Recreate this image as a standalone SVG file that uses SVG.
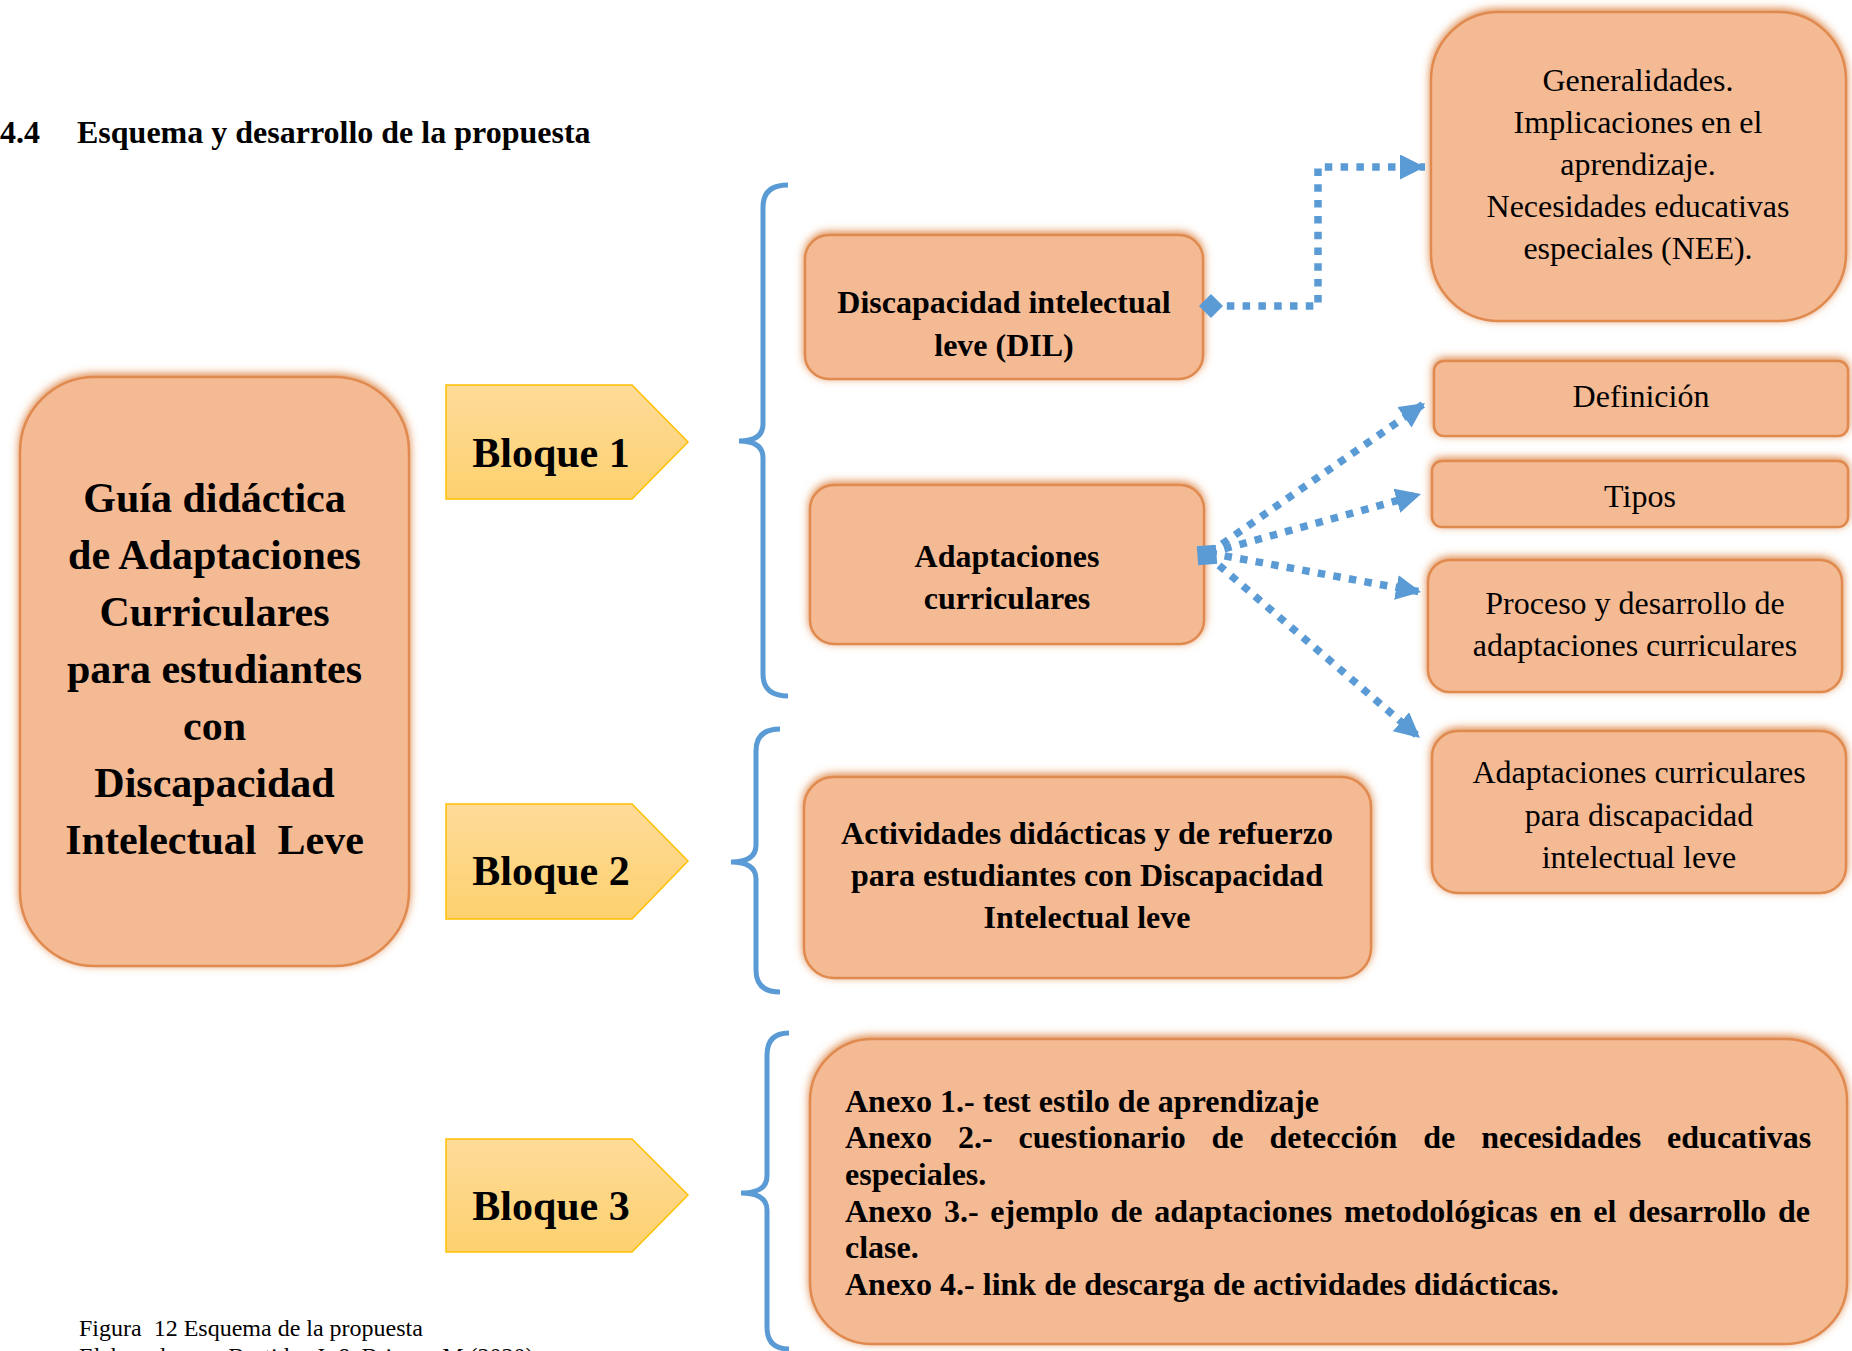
<svg xmlns="http://www.w3.org/2000/svg" width="1852" height="1351" viewBox="0 0 1852 1351">
<style>
.box{fill:#F4BA94;stroke:#E08A4F;stroke-width:2.5;filter:url(#glow)}
.blq{fill:url(#gold);stroke:#FFC000;stroke-width:1.5}
.t{font-family:"Liberation Serif","Times New Roman",serif;font-size:32px;fill:#000;text-anchor:middle}
.bd{font-weight:bold}
.big{font-size:42px;font-weight:bold}
.brace{fill:none;stroke:#5B9BD5;stroke-width:5}
.conn{fill:none;stroke:#5B9BD5;stroke-width:7.5;stroke-dasharray:7.5 8.3}
</style>
<defs>
<linearGradient id="gold" x1="0" y1="0" x2="0" y2="1">
<stop offset="0" stop-color="#FEDB99"/>
<stop offset="1" stop-color="#FDD16F"/>
</linearGradient>
<filter id="glow" x="-15%" y="-25%" width="130%" height="150%">
<feGaussianBlur in="SourceAlpha" stdDeviation="4"/>
<feOffset dy="-2" result="b"/>
<feFlood flood-color="#D9772F" flood-opacity="0.9"/>
<feComposite in2="b" operator="in"/>
<feMerge><feMergeNode/><feMergeNode in="SourceGraphic"/></feMerge>
</filter>
<marker id="arr" markerUnits="userSpaceOnUse" markerWidth="25" markerHeight="25" viewBox="0 0 24 24" refX="24" refY="12" orient="auto">
<path d="M0,0 L24,12 L0,24 z" fill="#5B9BD5"/>
</marker>
<marker id="dia" markerUnits="userSpaceOnUse" markerWidth="24" markerHeight="24" viewBox="0 0 24 24" refX="12" refY="12" orient="auto">
<path d="M0,12 L12,0 L24,12 L12,24 z" fill="#5B9BD5"/>
</marker>
<marker id="dia2" markerUnits="userSpaceOnUse" markerWidth="27" markerHeight="27" viewBox="0 0 24 24" refX="12" refY="12" orient="auto">
<path d="M0,12 L12,0 L24,12 L12,24 z" fill="#5B9BD5"/>
</marker>
</defs>
<rect width="1852" height="1351" fill="#fff"/>

<g id="title">
<text class="t bd" x="0" y="143" style="text-anchor:start">4.4</text>
<text class="t bd" x="77" y="143" style="text-anchor:start">Esquema y desarrollo de la propuesta</text>
</g>

<g id="main">
<rect class="box" x="20" y="377" width="389" height="589" rx="75"/>
<text class="t big" x="214.5" y="512">Guía didáctica</text>
<text class="t big" x="214.5" y="569">de Adaptaciones</text>
<text class="t big" x="214.5" y="626">Curriculares</text>
<text class="t big" x="214.5" y="683">para estudiantes</text>
<text class="t big" x="214.5" y="740">con</text>
<text class="t big" x="214.5" y="797">Discapacidad</text>
<text class="t big" x="214.5" y="854">Intelectual&#160; Leve</text>
</g>

<g id="bloque1">
<path class="blq" d="M446,385 H632 L688,442 L632,499 H446 Z"/>
<text class="t big" x="551" y="467">Bloque 1</text>
</g>
<g id="bloque2">
<path class="blq" d="M446,804 H632 L688,861 L632,919 H446 Z"/>
<text class="t big" x="551" y="885">Bloque 2</text>
</g>
<g id="bloque3">
<path class="blq" d="M446,1139 H632 L688,1195 L632,1252 H446 Z"/>
<text class="t big" x="551" y="1220">Bloque 3</text>
</g>

<g id="braces">
<path class="brace" d="M788,185 Q763,185 763,207 L763,424 Q763,441 739,441 Q763,441 763,458 L763,674 Q763,696 788,696"/>
<path class="brace" d="M780,729 Q756,729 756,751 L756,845 Q756,862 731,862 Q756,862 756,879 L756,970 Q756,992 780,992"/>
<path class="brace" d="M789,1033 Q767,1033 767,1055 L767,1176 Q767,1193 741,1193 Q767,1193 767,1210 L767,1327 Q767,1349 789,1349"/>
</g>

<g id="dil">
<rect class="box" x="805" y="235" width="398" height="144" rx="24"/>
<text class="t bd" x="1004" y="313">Discapacidad intelectual</text>
<text class="t bd" x="1004" y="356">leve (DIL)</text>
</g>

<g id="adap-curr">
<rect class="box" x="810" y="485" width="394" height="159" rx="24"/>
<text class="t bd" x="1007" y="567">Adaptaciones</text>
<text class="t bd" x="1007" y="609">curriculares</text>
</g>

<g id="actividades">
<rect class="box" x="804" y="777" width="567" height="201" rx="30"/>
<text class="t bd" x="1087" y="844">Actividades didácticas y de refuerzo</text>
<text class="t bd" x="1087" y="886">para estudiantes con Discapacidad</text>
<text class="t bd" x="1087" y="928">Intelectual leve</text>
</g>

<g id="anexos">
<rect class="box" x="810" y="1039" width="1037" height="305" rx="62"/>
<text class="t bd" style="text-anchor:start" x="845" y="1112">Anexo 1.- test estilo de aprendizaje</text>
<text class="t bd" style="text-anchor:start;word-spacing:17.9px" x="845" y="1148">Anexo 2.- cuestionario de detección de necesidades educativas</text>
<text class="t bd" style="text-anchor:start" x="845" y="1185">especiales.</text>
<text class="t bd" style="text-anchor:start;word-spacing:3.8px" x="845" y="1222">Anexo 3.- ejemplo de adaptaciones metodológicas en el desarrollo de</text>
<text class="t bd" style="text-anchor:start" x="845" y="1258">clase.</text>
<text class="t bd" style="text-anchor:start" x="845" y="1295">Anexo 4.- link de descarga de actividades didácticas.</text>
</g>

<g id="generalidades">
<rect class="box" x="1431" y="12" width="415" height="309" rx="68"/>
<text class="t" x="1638" y="91">Generalidades.</text>
<text class="t" x="1638" y="133">Implicaciones en el</text>
<text class="t" x="1638" y="175">aprendizaje.</text>
<text class="t" x="1638" y="217">Necesidades educativas</text>
<text class="t" x="1638" y="259">especiales (NEE).</text>
</g>

<g id="definicion">
<rect class="box" x="1434" y="361" width="414" height="75" rx="10"/>
<text class="t" x="1641" y="407">Definición</text>
</g>

<g id="tipos">
<rect class="box" x="1432" y="461" width="416" height="66" rx="10"/>
<text class="t" x="1640" y="507">Tipos</text>
</g>

<g id="proceso">
<rect class="box" x="1428" y="560" width="414" height="132" rx="22"/>
<text class="t" x="1635" y="614">Proceso y desarrollo de</text>
<text class="t" x="1635" y="656">adaptaciones curriculares</text>
</g>

<g id="adap-dil">
<rect class="box" x="1432" y="731" width="414" height="162" rx="26"/>
<text class="t" x="1639" y="783">Adaptaciones curriculares</text>
<text class="t" x="1639" y="826">para discapacidad</text>
<text class="t" x="1639" y="868">intelectual leve</text>
</g>

<g id="connectors">
<path class="conn" d="M1211,306 H1318 V167 H1425" marker-start="url(#dia)" marker-end="url(#arr)"/>
<path class="conn" d="M1209,553 L1425,403" marker-end="url(#arr)"/>
<path class="conn" d="M1209,553 L1421,494" marker-end="url(#arr)"/>
<path class="conn" d="M1209,553 L1421,592" marker-end="url(#arr)"/>
<path class="conn" d="M1207,555 L1420,738" marker-start="url(#dia2)" marker-end="url(#arr)"/>
</g>

<g id="caption">
<text class="t" style="text-anchor:start;font-size:24px" x="79" y="1336">Figura&#160; 12 Esquema de la propuesta</text>
<text class="t" style="text-anchor:start;font-size:24px" x="79" y="1364">Elaborado por: Bastidas J. &amp; Briones M (2020)</text>
</g>
</svg>
